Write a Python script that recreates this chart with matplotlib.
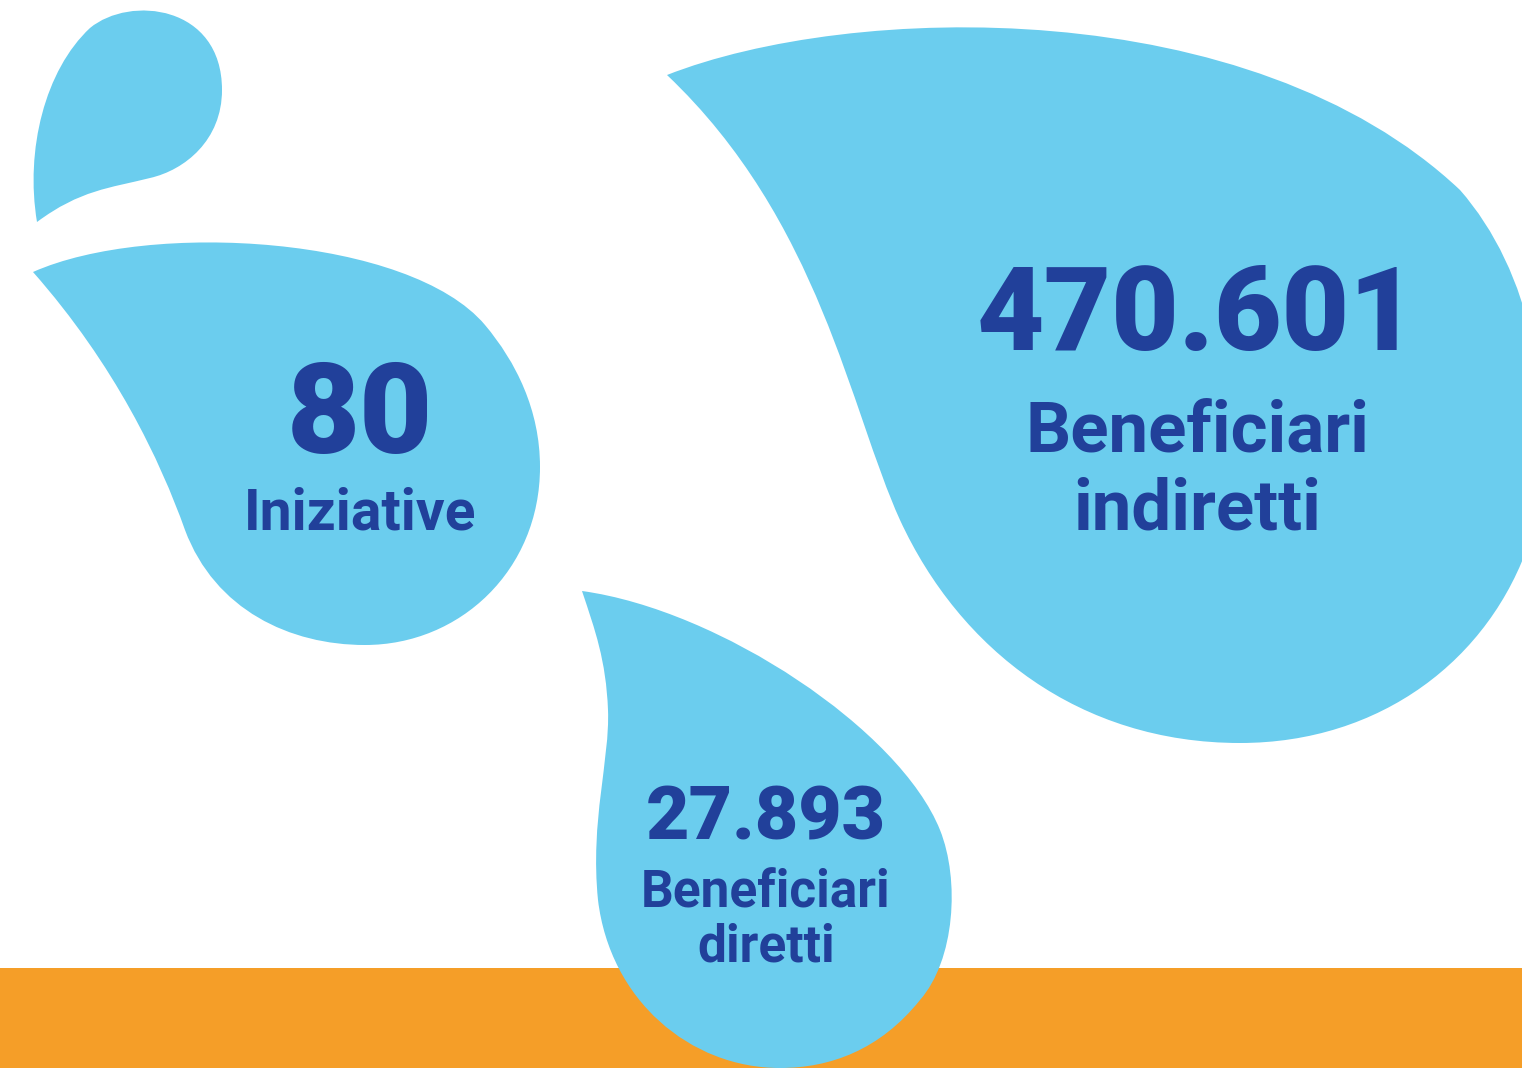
import matplotlib
matplotlib.use("Agg")
import matplotlib.pyplot as plt
from matplotlib.path import Path
from matplotlib.patches import PathPatch, Rectangle

# infographic content
values = ["80", "470.601", "27.893"]
labels = [["Iniziative"], ["Beneficiari", "indiretti"], ["Beneficiari", "diretti"]]

DROP = "#6BCDEE"
INK = "#21409A"
ORANGE = "#F59E28"

W, H = 1522, 1068

# drop outlines (pixel coords, y down), start point then cubic segments
drops = [
    [(37, 222), (25, 150), (45, 70), (90, 28), (130, -5), (222, 5), (222, 90),
     (222, 140), (185, 170), (150, 178), (110, 188), (80, 190), (37, 222)],
    [(33, 272), (150, 220), (410, 236), (485, 325), (516, 362), (540, 410), (540, 467),
     (540, 570), (460, 645), (365, 645), (290, 645), (215, 610), (185, 530),
     (160, 460), (115, 365), (33, 272)],
    [(667, 75), (850, 3), (1250, -8), (1460, 190), (1530, 270), (1560, 400), (1530, 540),
     (1490, 660), (1380, 743), (1240, 743), (1080, 743), (960, 650), (900, 520),
     (850, 410), (820, 220), (667, 75)],
    [(582, 591), (720, 610), (900, 730), (940, 830), (960, 880), (955, 960), (920, 1000),
     (880, 1050), (830, 1068), (780, 1068), (690, 1068), (610, 1000), (598, 900),
     (590, 820), (610, 760), (608, 710), (606, 660), (595, 630), (582, 591)],
]

# text layout: (x centre, number baseline, number size, label baselines, label size)
layout = [
    (360, 453, 91, [530], 41),
    (1197, 350, 84, [452, 530], 51),
    (766, 840, 54, [908, 962], 37),
]


def drop_path(pts):
    codes = [Path.MOVETO] + [Path.CURVE4] * (len(pts) - 1)
    return Path(pts, codes)


fig = plt.figure(figsize=(W / 100, H / 100), dpi=100)
ax = fig.add_axes([0, 0, 1, 1])
ax.set_xlim(0, W)
ax.set_ylim(H, 0)
ax.axis("off")

ax.add_patch(Rectangle((0, 968), W, 100, color=ORANGE, lw=0, zorder=1))
for pts in drops:
    ax.add_patch(PathPatch(drop_path(pts), facecolor=DROP, lw=0, zorder=2))

for val, lab, (cx, yb, ns, lys, ls) in zip(values, labels, layout):
    ax.text(cx, yb, val, ha="center", va="baseline", fontsize=ns, color=INK,
            family=["Roboto", "DejaVu Sans"], fontweight="black", zorder=3)
    for line, ly in zip(lab, lys):
        ax.text(cx, ly, line, ha="center", va="baseline", fontsize=ls, color=INK,
                family=["Roboto", "DejaVu Sans"], fontweight="bold", zorder=3)

fig.savefig("out.png", dpi=100)
